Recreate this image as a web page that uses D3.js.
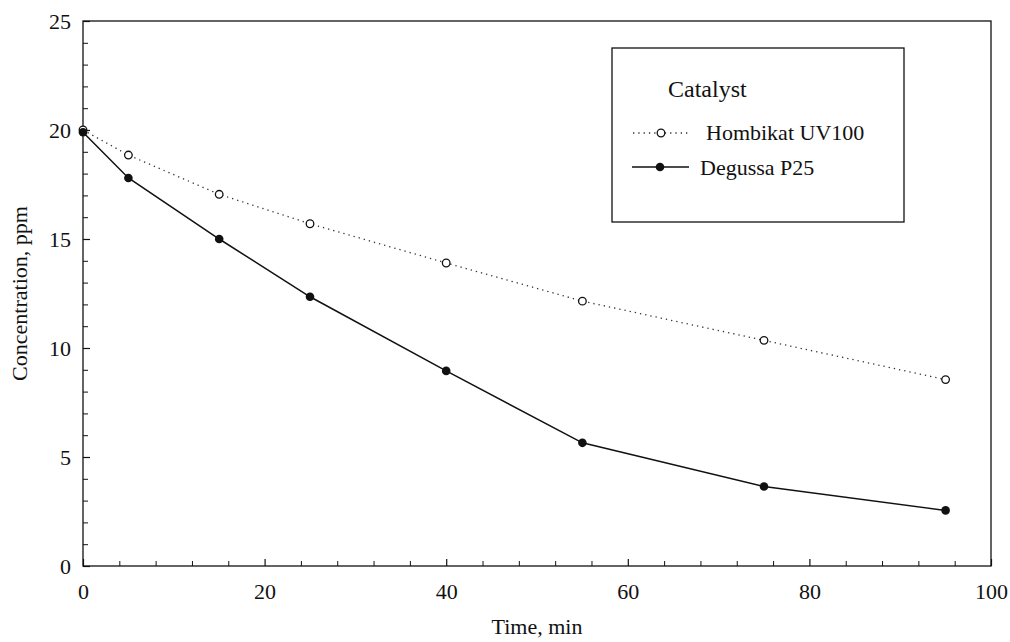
<!DOCTYPE html>
<html>
<head>
<meta charset="utf-8">
<script src="https://cdn.jsdelivr.net/npm/d3@7"></script>
<style>
  body { margin: 0; background: #fff; }
  svg { display: block; }
  svg text { font-family: "Liberation Serif", "Times New Roman", Times, "DejaVu Serif", serif !important; fill: #111; }
</style>
</head>
<body>
<svg id="chart" width="1010" height="642"></svg>
<script>
const time = [0, 5, 15, 25, 40, 55, 75, 95];
const hombikat = [20.0, 18.85, 17.05, 15.7, 13.9, 12.15, 10.35, 8.55];
const degussa = [19.9, 17.8, 15.0, 12.35, 8.95, 5.65, 3.65, 2.55];
const xTicks = [0, 20, 40, 60, 80, 100];
const yTicks = [0, 5, 10, 15, 20, 25];
const seriesNames = ["Hombikat UV100", "Degussa P25"];

const FONT = '"Liberation Serif", "Times New Roman", Times, "DejaVu Serif", serif';
const svg = d3.select("#chart");
const L = 83, R = 991, T = 21, B = 566;
const x = d3.scaleLinear().domain([0, 100]).range([L, R]);
const y = d3.scaleLinear().domain([0, 25]).range([B, T]);

// frame
svg.append("rect").attr("x", L).attr("y", T).attr("width", R - L).attr("height", B - T)
  .attr("fill", "none").attr("stroke", "#111").attr("stroke-width", 1.3);

const xMinor = d3.range(0, 101, 4).filter(v => v % 20 !== 0);
const yMinor = d3.range(0, 26, 1).filter(v => v % 5 !== 0);

const gx = svg.append("g").attr("transform", `translate(0,${B})`);
gx.call(d3.axisBottom(x).tickValues(xTicks).tickSizeInner(-7).tickSizeOuter(0).tickPadding(0).tickFormat(d3.format("d")));
gx.attr("font-family", FONT);
gx.select(".domain").remove();
gx.selectAll("line").attr("stroke", "#111").attr("stroke-width", 1.2);
gx.selectAll("text").attr("font-size", 22).attr("dy", null).attr("y", 33).attr("font-family", FONT).attr("fill", "#111");
const gxm = svg.append("g").attr("transform", `translate(0,${B})`);
gxm.call(d3.axisBottom(x).tickValues(xMinor).tickSizeInner(-5).tickSizeOuter(0).tickFormat(""));
gxm.select(".domain").remove();
gxm.selectAll("line").attr("stroke", "#111").attr("stroke-width", 1);

const gy = svg.append("g").attr("transform", `translate(${L},0)`);
gy.call(d3.axisLeft(y).tickValues(yTicks).tickSizeInner(-7).tickSizeOuter(0).tickPadding(0).tickFormat(d3.format("d")));
gy.attr("font-family", FONT);
gy.select(".domain").remove();
gy.selectAll("line").attr("stroke", "#111").attr("stroke-width", 1.2);
gy.selectAll("text").attr("font-size", 22).attr("x", -12).attr("dy", "0.35em").attr("font-family", FONT).attr("fill", "#111");
const gym = svg.append("g").attr("transform", `translate(${L},0)`);
gym.call(d3.axisLeft(y).tickValues(yMinor).tickSizeInner(-5).tickSizeOuter(0).tickFormat(""));
gym.select(".domain").remove();
gym.selectAll("line").attr("stroke", "#111").attr("stroke-width", 1);

// axis titles
svg.append("text").attr("x", (L + R) / 2).attr("y", 634).attr("text-anchor", "middle")
  .attr("font-family", FONT).attr("font-size", 22).text("Time, min");
svg.append("text").attr("transform", `translate(27,${(T + B) / 2}) rotate(-90)`)
  .attr("text-anchor", "middle").attr("font-family", FONT).attr("font-size", 22).text("Concentration, ppm");

// lines
const line = d3.line().x(d => x(d[0])).y(d => y(d[1]));
const hData = time.map((t, i) => [t, hombikat[i]]);
const dData = time.map((t, i) => [t, degussa[i]]);

svg.append("path").datum(hData).attr("d", line).attr("fill", "none")
  .attr("stroke", "#333").attr("stroke-width", 1.3).attr("stroke-dasharray", "1.3,4");
svg.append("path").datum(dData).attr("d", line).attr("fill", "none")
  .attr("stroke", "#111").attr("stroke-width", 1.5);

svg.append("g").selectAll("circle").data(hData).join("circle")
  .attr("cx", d => x(d[0])).attr("cy", d => y(d[1])).attr("r", 3.8)
  .attr("fill", "#fff").attr("stroke", "#111").attr("stroke-width", 1.3);
svg.append("g").selectAll("circle").data(dData).join("circle")
  .attr("cx", d => x(d[0])).attr("cy", d => y(d[1])).attr("r", 4.3)
  .attr("fill", "#111");

// legend
const lg = svg.append("g").attr("font-family", FONT);
lg.append("rect").attr("x", 612).attr("y", 48).attr("width", 292).attr("height", 174)
  .attr("fill", "#fff").attr("stroke", "#111").attr("stroke-width", 1.3);
lg.append("text").attr("x", 668).attr("y", 97).attr("font-size", 24).attr("font-family", FONT).text("Catalyst");
lg.append("line").attr("x1", 633).attr("x2", 689).attr("y1", 133).attr("y2", 133)
  .attr("stroke", "#333").attr("stroke-width", 1.3).attr("stroke-dasharray", "1.3,4");
lg.append("circle").attr("cx", 661).attr("cy", 133).attr("r", 3.8)
  .attr("fill", "#fff").attr("stroke", "#111").attr("stroke-width", 1.3);
lg.append("text").attr("x", 706).attr("y", 140).attr("font-size", 22).attr("font-family", FONT).text(seriesNames[0]);
lg.append("line").attr("x1", 632).attr("x2", 689).attr("y1", 167).attr("y2", 167)
  .attr("stroke", "#111").attr("stroke-width", 1.5);
lg.append("circle").attr("cx", 660).attr("cy", 167).attr("r", 4.3).attr("fill", "#111");
lg.append("text").attr("x", 700).attr("y", 175).attr("font-size", 22).attr("font-family", FONT).text(seriesNames[1]);
</script>
</body>
</html>
